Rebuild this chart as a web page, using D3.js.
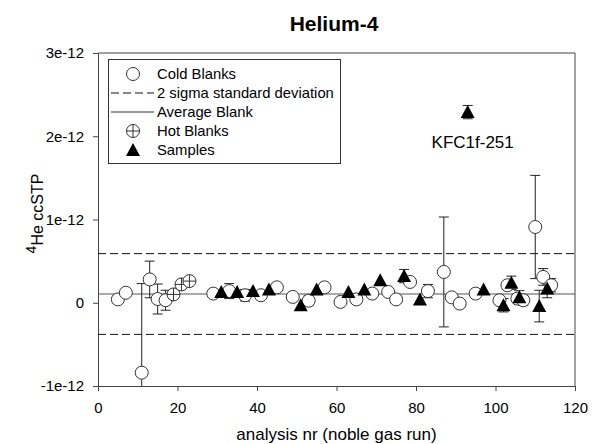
<!DOCTYPE html>
<html><head><meta charset="utf-8">
<script src="https://cdn.jsdelivr.net/npm/d3@7"></script>
<style>body{margin:0;background:#fff}svg{display:block}text{font-family:"Liberation Sans",Arial,sans-serif}</style>
</head><body>
<svg id="c" width="592" height="444"></svg>
<script>
// values in units of 1e-12 ccSTP
const coldX   = [5, 7, 11, 13, 15, 17, 29, 33, 37, 41, 45, 49, 53, 57, 61, 65, 69, 73, 75, 78.5, 83, 87, 89, 91, 95, 101, 103, 105.5, 107, 110, 112, 114];
const coldY   = [0.04, 0.12, -0.84, 0.28, 0.045, 0.03, 0.11, 0.14, 0.09, 0.09, 0.185, 0.07, 0.025, 0.185, 0.01, 0.04, 0.11, 0.13, 0.04, 0.25, 0.14, 0.37, 0.065, -0.01, 0.11, 0.03, 0.21, 0.05, 0.03, 0.91, 0.31, 0.21];
const coldErr = [0, 0, 1.07, 0.22, 0.18, 0.12, 0, 0.09, 0.07, 0.04, 0, 0, 0.06, 0, 0, 0, 0, 0, 0, 0, 0.08, 0.66, 0, 0, 0, 0, 0, 0, 0.06, 0.62, 0.1, 0.08];
const hotX    = [19, 21, 23];
const hotY    = [0.10, 0.22, 0.26];
const sampX   = [31, 35, 39, 43, 51, 55, 63, 67, 71, 77, 81, 93, 97, 102, 104, 106, 111, 113];
const sampY   = [0.13, 0.13, 0.14, 0.16, -0.03, 0.16, 0.13, 0.16, 0.27, 0.32, 0.04, 2.29, 0.16, -0.03, 0.24, 0.065, -0.04, 0.17];
const sampErr = [0, 0, 0, 0, 0, 0, 0, 0, 0, 0.08, 0, 0.08, 0, 0.08, 0.08, 0.08, 0.19, 0.11];
const avgBlank = 0.105;
const sigma2Upper = 0.59;
const sigma2Lower = -0.38;
const xTicks = [0, 20, 40, 60, 80, 100, 120];
const yTicks = [-1, 0, 1, 2, 3];
const yTickLabels = ["-1e-12", "0", "1e-12", "2e-12", "3e-12"];
const legendLabels = ["Cold Blanks", "2 sigma standard deviation", "Average Blank", "Hot Blanks", "Samples"];
const annotation = {x: 93, y: 2.29, text: "KFC1f-251"};

const svg = d3.select("#c");
const L = 98, R = 575, T = 53, B = 386;
const x = d3.scaleLinear().domain([0, 120]).range([L, R]);
const y = d3.scaleLinear().domain([-1, 3]).range([B, T]);
const axisCol = "#444";

svg.append("text").attr("x", 334).attr("y", 31).attr("text-anchor", "middle")
  .attr("font-size", 21).attr("font-weight", "bold").text("Helium-4");

svg.append("defs").append("clipPath").attr("id", "pc").append("rect")
  .attr("x", L).attr("y", T).attr("width", R - L).attr("height", B - T);

// axes
const gx = svg.append("g").attr("transform", `translate(0,${B})`)
  .call(d3.axisBottom(x).tickValues(xTicks).tickSize(5).tickSizeOuter(0).tickPadding(11));
const gy = svg.append("g").attr("transform", `translate(${L},0)`)
  .call(d3.axisLeft(y).tickValues(yTicks).tickFormat((d, i) => yTickLabels[i]).tickSize(5).tickSizeOuter(0).tickPadding(9));
[gx, gy].forEach(g => {
  g.selectAll("path,line").attr("stroke", axisCol);
  g.selectAll("text").attr("font-size", 15).attr("fill", "#000").style("font-family", '"Liberation Sans",Arial,sans-serif');
});
svg.append("line").attr("x1", L).attr("x2", R).attr("y1", T).attr("y2", T).attr("stroke", axisCol);
svg.append("line").attr("x1", R).attr("x2", R).attr("y1", T).attr("y2", B).attr("stroke", axisCol);

svg.append("text").attr("x", (L + R) / 2).attr("y", 440).attr("text-anchor", "middle")
  .attr("font-size", 17).text("analysis nr (noble gas run)");
const yt = svg.append("text").attr("transform", `translate(42,${(T + B) / 2 - 6}) rotate(-90)`)
  .attr("text-anchor", "middle").attr("font-size", 16);
yt.append("tspan").attr("dy", "-0.4em").attr("font-size", 14).text("4");
yt.append("tspan").attr("dy", "0.4em").text("He ccSTP");

const plot = svg.append("g").attr("clip-path", "url(#pc)");

// reference lines
plot.append("line").attr("x1", L).attr("x2", R).attr("y1", y(avgBlank)).attr("y2", y(avgBlank)).attr("stroke", "#555");
[sigma2Upper, sigma2Lower].forEach(v => plot.append("line").attr("x1", L).attr("x2", R)
  .attr("y1", y(v)).attr("y2", y(v)).attr("stroke", "#111").attr("stroke-dasharray", "8,4"));

function errBars(xs, ys, es) {
  xs.forEach((xv, i) => {
    const e = es[i]; if (!e) return;
    const px = x(xv), y1 = y(ys[i] - e), y2 = y(ys[i] + e);
    plot.append("line").attr("x1", px).attr("x2", px).attr("y1", y1).attr("y2", y2).attr("stroke", "#222");
    [y1, y2].forEach(yy => plot.append("line").attr("x1", px - 5).attr("x2", px + 5).attr("y1", yy).attr("y2", yy).attr("stroke", "#222"));
  });
}
errBars(coldX, coldY, coldErr);
errBars(sampX, sampY, sampErr);

const tri = "M0,-7L7,6L-7,6Z";
function circle(g, cx, cy) {
  g.append("circle").attr("cx", cx).attr("cy", cy).attr("r", 6.5).attr("fill", "#fff").attr("stroke", "#333");
}
function hot(g, cx, cy) {
  circle(g, cx, cy);
  g.append("line").attr("x1", cx - 6.5).attr("x2", cx + 6.5).attr("y1", cy).attr("y2", cy).attr("stroke", "#333");
  g.append("line").attr("x1", cx).attr("x2", cx).attr("y1", cy - 6.5).attr("y2", cy + 6.5).attr("stroke", "#333");
}
function triangle(g, cx, cy) {
  g.append("path").attr("d", tri).attr("transform", `translate(${cx},${cy})`).attr("fill", "#000");
}
coldX.forEach((xv, i) => circle(plot, x(xv), y(coldY[i])));
hotX.forEach((xv, i) => hot(plot, x(xv), y(hotY[i])));
sampX.forEach((xv, i) => triangle(plot, x(xv), y(sampY[i])));

svg.append("text").attr("x", x(annotation.x) + 5).attr("y", y(annotation.y) + 36)
  .attr("text-anchor", "middle").attr("font-size", 17).text(annotation.text);

// legend
const lg = svg.append("g");
lg.append("rect").attr("x", 108.5).attr("y", 59.5).attr("width", 232).attr("height", 104)
  .attr("fill", "#fff").attr("stroke", "#333");
const rows = [74, 93, 112, 131, 150];
circle(lg, 133, rows[0]);
lg.append("line").attr("x1", 111).attr("x2", 154).attr("y1", rows[1]).attr("y2", rows[1]).attr("stroke", "#111").attr("stroke-dasharray", "8,4");
lg.append("line").attr("x1", 111).attr("x2", 154).attr("y1", rows[2]).attr("y2", rows[2]).attr("stroke", "#333");
hot(lg, 133, rows[3]);
triangle(lg, 133, rows[4]);
legendLabels.forEach((t, i) => lg.append("text").attr("x", 157).attr("y", rows[i] + 5).attr("font-size", 14.8).text(t));
</script>
</body></html>
